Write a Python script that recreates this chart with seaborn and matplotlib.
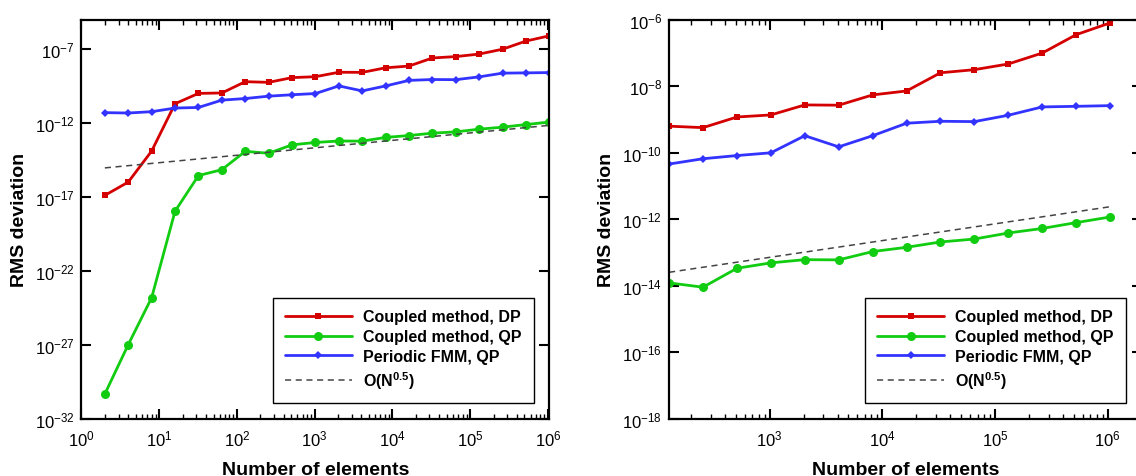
import numpy as np
import pandas as pd
import matplotlib
matplotlib.use('Agg')
import matplotlib.pyplot as plt
import matplotlib.ticker as mticker
import seaborn as sns

# Number of elements: 2^1 ... 2^20
n_elements = [2, 4, 8, 16, 32, 64, 128, 256, 512, 1024, 2048, 4096, 8192,
              16384, 32768, 65536, 131072, 262144, 524288, 1048576]

# RMS deviation per method
coupled_dp = [1.26e-17, 1.0e-16, 1.26e-14, 2.0e-11, 1.0e-10, 1.07e-10,
              6.2e-10, 5.6e-10, 1.17e-9, 1.35e-9, 2.7e-9, 2.65e-9, 5.4e-9,
              7.1e-9, 2.5e-8, 3.1e-8, 4.6e-8, 9.8e-8, 3.5e-7, 7.9e-7]
coupled_qp = [4.6e-31, 1.0e-27, 1.5e-24, 1.07e-18, 2.75e-16, 6.9e-16,
              1.2e-14, 8.9e-15, 3.3e-14, 4.8e-14, 6.0e-14, 5.9e-14, 1.05e-13,
              1.41e-13, 2.04e-13, 2.5e-13, 3.8e-13, 5.2e-13, 7.8e-13, 1.15e-12]
fmm_qp = [5.0e-12, 4.7e-12, 5.8e-12, 1.02e-11, 1.12e-11, 3.5e-11,
          4.5e-11, 6.5e-11, 8.1e-11, 9.8e-11, 3.2e-10, 1.48e-10, 3.2e-10,
          7.6e-10, 8.7e-10, 8.5e-10, 1.32e-9, 2.35e-9, 2.45e-9, 2.57e-9]

# O(N^0.5) guide lines, end points per panel
guide_left_x = [2, 1048576]
guide_left_y = [9.1e-16, 6.9e-13]
guide_right_x = [128, 1048576]
guide_right_y = [2.5e-14, 2.34e-12]

# right panel starts at N = 128
right_start = 6

left_yticks = [1e-32, 1e-27, 1e-22, 1e-17, 1e-12, 1e-7]
right_yticks = [1e-18, 1e-16, 1e-14, 1e-12, 1e-10, 1e-8, 1e-6]
left_xticks = [1e0, 1e1, 1e2, 1e3, 1e4, 1e5, 1e6]
right_xticks = [1e3, 1e4, 1e5, 1e6]

labels = ['Coupled method, DP', 'Coupled method, QP', 'Periodic FMM, QP',
          'O(N$^{0.5}$)']

RED = '#d40000'
GREEN = '#11cc11'
BLUE = '#3333ff'
GRAY = '#444444'

sns.set_theme(style='ticks')
plt.rcParams['font.family'] = ['Liberation Sans', 'DejaVu Sans']
plt.rcParams['mathtext.default'] = 'regular'
plt.rcParams['axes.unicode_minus'] = False
for key in ['text.color', 'axes.labelcolor', 'xtick.color', 'ytick.color',
            'axes.edgecolor']:
    plt.rcParams[key] = 'black'


def exp_label(v, pos):
    return r'$\mathregular{10^{%d}}$' % int(round(np.log10(v)))


def draw_panel(ax, x, dp, qp, fmm, gx, gy, xlim, ylim, xticks, yticks):
    sns.lineplot(x=x, y=dp, ax=ax, color=RED, marker='s', markersize=5,
                 markeredgewidth=0, linewidth=2, label=labels[0])
    sns.lineplot(x=x, y=qp, ax=ax, color=GREEN, marker='o', markersize=6.5,
                 markeredgewidth=0, linewidth=2, label=labels[1])
    sns.lineplot(x=x, y=fmm, ax=ax, color=BLUE, marker='D', markersize=4,
                 markeredgewidth=0, linewidth=2, label=labels[2])
    sns.lineplot(x=gx, y=gy, ax=ax, color=GRAY, linestyle=(0, (4, 3)),
                 linewidth=1.1, label=labels[3])

    ax.set_xscale('log')
    ax.set_yscale('log')
    ax.set_xlim(*xlim)
    ax.set_ylim(*ylim)

    ax.xaxis.set_major_locator(mticker.FixedLocator(xticks))
    ax.xaxis.set_minor_locator(mticker.LogLocator(base=10, subs=np.arange(2, 10), numticks=20))
    ax.xaxis.set_major_formatter(mticker.FuncFormatter(exp_label))
    ax.xaxis.set_minor_formatter(mticker.NullFormatter())
    ax.yaxis.set_major_locator(mticker.FixedLocator(yticks))
    ax.yaxis.set_minor_locator(mticker.NullLocator())
    ax.yaxis.set_major_formatter(mticker.FuncFormatter(exp_label))

    ax.tick_params(which='both', direction='in', top=True, right=True, colors='black')
    ax.tick_params(which='major', length=7, width=1.5, labelsize=12, pad=5)
    ax.tick_params(axis='x', which='major', pad=7)
    ax.tick_params(which='minor', length=3.5, width=1.0)
    for s in ax.spines.values():
        s.set_linewidth(1.6)
        s.set_color('black')

    ax.set_xlabel('Number of elements', fontsize=14, fontweight='bold',
                  labelpad=9, color='black')
    ax.set_ylabel('RMS deviation', fontsize=14, fontweight='bold',
                  labelpad=5, color='black')

    leg = ax.legend(loc='lower right', prop={'weight': 'bold', 'size': 11.5},
                    frameon=True, fancybox=False, edgecolor='black', framealpha=1,
                    handlelength=4.2, handletextpad=0.7, labelspacing=0.3,
                    borderpad=0.75, borderaxespad=1.0)
    leg.get_frame().set_linewidth(1.0)
    for t in leg.get_texts():
        t.set_color('black')


fig = plt.figure(figsize=(11.36, 4.77), dpi=100)
ax1 = fig.add_axes([0.0717, 0.1205, 0.412, 0.8365])
ax2 = fig.add_axes([0.589, 0.1205, 0.416, 0.8365])

draw_panel(ax1, n_elements, coupled_dp, coupled_qp, fmm_qp,
           guide_left_x, guide_left_y, (1, 1.05e6), (1e-32, 1e-5),
           left_xticks, left_yticks)
draw_panel(ax2, n_elements[right_start:], coupled_dp[right_start:],
           coupled_qp[right_start:], fmm_qp[right_start:],
           guide_right_x, guide_right_y, (128, 2e6), (1e-18, 1e-6),
           right_xticks, right_yticks)

fig.savefig('out.png', dpi=100)
